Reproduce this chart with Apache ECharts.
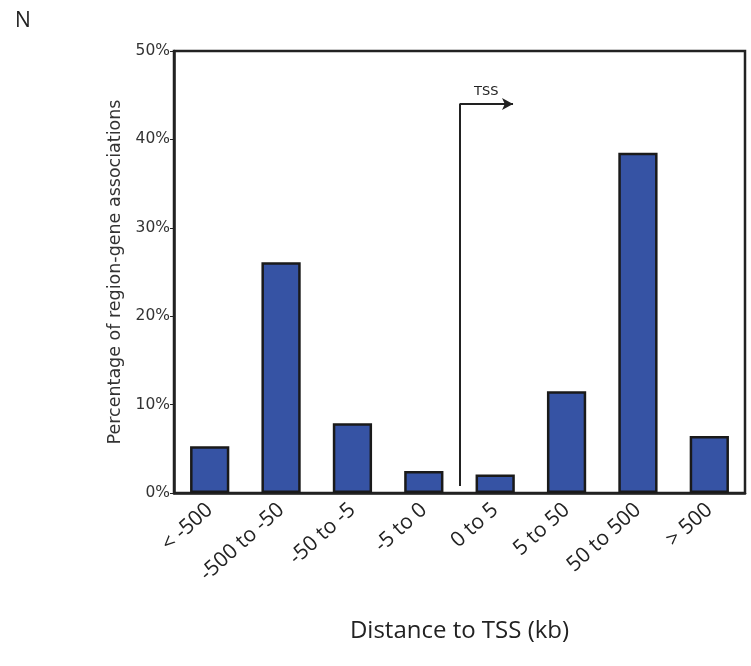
<!DOCTYPE html>
<html>
<head>
<meta charset="utf-8">
<script src="https://cdn.jsdelivr.net/npm/echarts@6/dist/echarts.min.js"></script>
<style>html,body{margin:0;padding:0;background:#fff;}#c{width:751px;height:666px;}</style>
</head>
<body>
<div id="c"></div>
<script>
const categories = ['< -500', '-500 to -50', '-50 to -5', '-5 to 0', '0 to 5', '5 to 50', '50 to 500', '> 500'];
const percentages = [5.3, 26.1, 7.9, 2.5, 2.1, 11.5, 38.5, 6.45];
const yTicks = [0, 10, 20, 30, 40, 50];
const tssLineBottom = 0.8;
const tssLineTop = 44;
const tssPosition = 4;      // boundary between "-5 to 0" and "0 to 5"
const tssArrowEnd = 4.75;

const chart = echarts.init(document.getElementById('c'));
chart.setOption({
  backgroundColor: '#fff',
  animation: false,
  title: {
    text: 'N', left: 10, top: 6,
    textStyle: { fontFamily: 'Open Sans', fontSize: 21, fontWeight: 'normal', color: '#222' }
  },
  grid: { left: 174, right: 6, top: 51, bottom: 173, show: true, borderColor: '#222', borderWidth: 2.5 },
  xAxis: [{
    type: 'category',
    data: categories,
    axisLine: { lineStyle: { color: '#222', width: 2.5 } },
    axisTick: { show: false },
    axisLabel: {
      rotate: 42, interval: 0, margin: 14,
      fontFamily: 'Open Sans', fontSize: 21, color: '#222'
    },
    name: 'Distance to TSS (kb)',
    nameLocation: 'middle',
    nameGap: 126,
    nameTextStyle: { fontFamily: 'Open Sans', fontSize: 24, color: '#222' }
  }, {
    type: 'value', min: 0, max: 8, show: false
  }],
  yAxis: {
    type: 'value', min: yTicks[0], max: yTicks[yTicks.length - 1], interval: 10,
    axisLine: { show: true, lineStyle: { color: '#222', width: 2.5 } },
    axisTick: { show: true, length: 4, lineStyle: { color: '#222', width: 1 } },
    splitLine: { show: false },
    axisLabel: { formatter: '{value}%', fontFamily: 'DejaVu Sans', fontSize: 15.5, color: '#333', margin: 4 },
    name: 'Percentage of region-gene associations',
    nameLocation: 'middle',
    nameGap: 47,
    nameTextStyle: { fontFamily: 'DejaVu Sans', fontSize: 17.5, color: '#333' }
  },
  series: [{
    type: 'bar',
    data: percentages,
    barWidth: '55%',
    itemStyle: { color: '#3653A4', borderColor: '#1a1a1a', borderWidth: 2.5 }
  }, {
    type: 'scatter',
    xAxisIndex: 1,
    data: [],
    silent: true,
    markLine: {
      silent: true,
      animation: false,
      lineStyle: { color: '#222', width: 2, type: 'solid' },
      data: [
        [{ coord: [tssPosition, tssLineBottom], symbol: 'none', label: { show: false } },
         { coord: [tssPosition, tssLineTop], symbol: 'none' }],
        [{ coord: [tssPosition, tssLineTop], symbol: 'none',
           label: { show: true, position: 'middle', formatter: 'TSS', distance: 6,
                    fontFamily: 'DejaVu Sans', fontSize: 13, color: '#222' } },
         { coord: [tssArrowEnd, tssLineTop], symbol: 'arrow', symbolSize: [9, 11] }]
      ]
    }
  }]
});
</script>
</body>
</html>
